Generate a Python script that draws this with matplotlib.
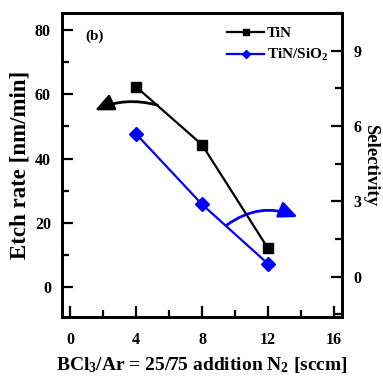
import numpy as np
import matplotlib.pyplot as plt
from matplotlib.patches import FancyArrowPatch
from matplotlib.ticker import MultipleLocator

plt.rcParams['font.family'] = ['Liberation Serif', 'DejaVu Serif']
plt.rcParams['font.weight'] = 'bold'
plt.rcParams['mathtext.fontset'] = 'custom'
plt.rcParams['mathtext.default'] = 'bf'
plt.rcParams['mathtext.bf'] = 'Liberation Serif:bold'
plt.rcParams['mathtext.rm'] = 'Liberation Serif:bold'

# data
n2_flow = [4, 8, 12]
tin_rate = [62.3, 44.3, 12.1]          # etch rate of TiN [nm/min]
selectivity = [5.68, 2.88, 0.52]       # TiN/SiO2 selectivity

fig = plt.figure(figsize=(3.83, 3.81), dpi=100)
ax = fig.add_axes([0.162, 0.168, 0.731, 0.798])
ax2 = ax.twinx()

l1, = ax.plot(n2_flow, tin_rate, color='black', lw=1.6, marker='s', ms=7, label='TiN')
l2, = ax2.plot(n2_flow, selectivity, color='blue', lw=1.6, marker='D', ms=7, label='TiN/SiO$_2$')

ax.set_xlim(-0.5, 16.5)
ax.set_ylim(-9.3, 85.3)
ax2.set_ylim(-1.6, 10.5)

ax.xaxis.set_major_locator(MultipleLocator(4))
ax.xaxis.set_minor_locator(MultipleLocator(2))
ax.yaxis.set_major_locator(MultipleLocator(20))
ax.yaxis.set_minor_locator(MultipleLocator(10))
ax2.yaxis.set_major_locator(MultipleLocator(3))
ax2.yaxis.set_minor_locator(MultipleLocator(1.5))

for a in (ax, ax2):
    a.tick_params(which='major', direction='in', length=8, width=1.6, labelsize=11.5, pad=8)
    a.tick_params(which='minor', direction='in', length=5, width=1.6)
    for s in a.spines.values():
        s.set_linewidth(2)
ax.tick_params(top=False, right=False, which='both')
ax.tick_params(axis='x', which='major', pad=11)
ax2.tick_params(left=False, which='both')

ax.set_xlabel('BCl$_3$/Ar = 25/75 addition N$_2$ [sccm]', fontsize=14, fontweight='bold', labelpad=5)
ax.set_ylabel('Etch rate [nm/min]', fontsize=16.5, fontweight='bold', labelpad=3)
ax2.set_ylabel('Selectivity', fontsize=13.5, fontweight='bold', rotation=270, labelpad=13)

ax.text(0.9, 77, '(b)', fontsize=11, fontweight='bold')

ax2.legend(handles=[l1, l2], loc='upper right', frameon=False, fontsize=11,
           handlelength=2.4, handletextpad=0.2, labelspacing=0.45, markerscale=0.55)

# curved arrows pointing to the axes
ax.add_patch(FancyArrowPatch((5.3, 56.6), (1.5, 55), connectionstyle='arc3,rad=0.18',
                             arrowstyle='-|>,head_length=11,head_width=5', color='black', lw=2,
                             shrinkA=0, shrinkB=0))
ax.add_patch(FancyArrowPatch((9.5, 19.3), (13.8, 21.8), connectionstyle='arc3,rad=-0.28',
                             arrowstyle='-|>,head_length=11,head_width=5', color='blue', lw=2,
                             shrinkA=0, shrinkB=0))

fig.savefig('out.png', dpi=100)
